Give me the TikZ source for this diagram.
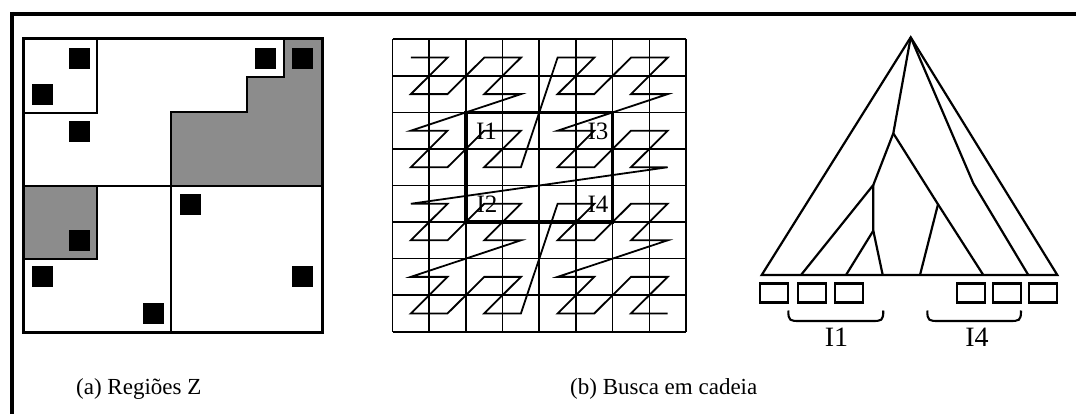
\documentclass[tikz,border=0pt]{standalone}
\usepackage{fontspec}
\setmainfont{Liberation Serif}
\begin{document}
\begin{tikzpicture}[x=1pt,y=-1pt,
  frameline/.style={line width=4pt},
  region/.style={line width=2.3pt},
  shaded/.style={fill=black!45},
  object/.style={fill=black},
  gridline/.style={line width=1.6pt},
  boldbox/.style={line width=3.4pt},
  zcurve/.style={line width=1.8pt},
  treeline/.style={line width=2.2pt},
  leafbox/.style={draw, line width=2.1pt, minimum width=28pt, minimum height=19pt, inner sep=0pt},
  bracket/.style={line width=2.1pt},
  celllabel/.style={inner sep=0pt, font=\fontsize{25}{25}\selectfont},
  leaflabel/.style={inner sep=0pt, font=\fontsize{28}{28}\selectfont},
  caption/.style={inner sep=0pt, anchor=base west, font=\fontsize{23}{24}\selectfont}]
\useasboundingbox (0,0) rectangle (1076,414);

% page frame (top and left rules)
\draw[frameline] (12,14) -- (1076,14);
\draw[frameline] (12,12) -- (12,414);

% ---------- (a) Z regions ----------
\fill[shaded] (171,186) -- (171,112) -- (247,112) -- (247,77) -- (284,77) -- (284,39)
  -- (322,39) -- (322,186) -- cycle;
\draw[region] (171,186) -- (171,112) -- (247,112) -- (247,77) -- (284,77) -- (284,39);
\fill[shaded] (23,186) rectangle (97,259);
\draw[region] (23,186) rectangle (97,259);
\draw[region] (23,39) rectangle (97,113);
\draw[region] (23,186) -- (322,186);
\draw[region] (171,186) -- (171,332);
\draw[line width=3pt] (23,39) rectangle (322,332);
\foreach \px/\py in {69/48, 32/84, 69/121, 255/48, 292/48, 69/230, 32/266, 143/303, 180/194, 292/266}
  \fill[object] (\px,\py) rectangle ++(21,21);

% ---------- (b) grid with Z-order curve ----------
\foreach \i in {0,...,8} {
  \draw[gridline] ({392.5+36.69*\i},39.3) -- ({392.5+36.69*\i},331.7);
  \draw[gridline] (392.5,{39.3+36.55*\i}) -- (686,{39.3+36.55*\i});
}
\draw[boldbox] (465.9,112.4) rectangle (612.6,222.05);

% Morton order over the 8x8 cells
\foreach \k in {0,...,63} {
  \pgfmathtruncatemacro\ci{mod(\k,2)+2*mod(floor(\k/4),2)+4*mod(floor(\k/16),2)}
  \pgfmathtruncatemacro\cj{mod(floor(\k/2),2)+2*mod(floor(\k/8),2)+4*mod(floor(\k/32),2)}
  \coordinate (z\k) at ({392.5+36.69*(\ci+0.5)},{39.3+36.55*(\cj+0.5)});
}
\draw[zcurve] (z0) foreach \k in {1,...,63} { -- (z\k) };

\node[celllabel] (gI1) at (486.5,131.5) {I1};
\node[celllabel] (gI3) at (598,131.5) {I3};
\node[celllabel] (gI2) at (487,204.5) {I2};
\node[celllabel] (gI4) at (598,204.5) {I4};

% ---------- tree over the curve ----------
\coordinate (apex) at (910.7,37.3);
\coordinate (bl) at (761.7,275);
\coordinate (br) at (1057.3,275);
\coordinate (nA) at (893.3,133.3);
\coordinate (nB) at (873.3,185);
\coordinate (nC) at (873.3,230.7);
\coordinate (nD) at (938,204.3);
\coordinate (nK) at (973.3,183.3);
\coordinate (l1) at (801,275);
\coordinate (l2) at (846,275);
\coordinate (l3) at (882.7,275);
\coordinate (l4) at (920,275);
\coordinate (l5) at (983.3,275);
\coordinate (l6) at (1028.3,275);

\draw[treeline, line join=miter] (bl) -- (apex) -- (br) -- cycle;
\draw[treeline] (apex) -- (nA) -- (nB) -- (l1);
\draw[treeline] (nB) -- (nC) -- (l2);
\draw[treeline] (nC) -- (l3);
\draw[treeline] (nA) -- (nD) -- (l5);
\draw[treeline] (nD) -- (l4);
\draw[treeline] (apex) -- (nK) -- (l6);

\node[leafbox] (b1) at (774.2,293) {};
\node[leafbox] (b2) at (812.3,293) {};
\node[leafbox] (b3) at (849,293) {};
\node[leafbox] (b4) at (971,293) {};
\node[leafbox] (b5) at (1007,293) {};
\node[leafbox] (b6) at (1043,293) {};

% brackets under the leaf groups
\coordinate (br1a) at (788.3,310.5);
\coordinate (br1b) at (883.3,310.5);
\coordinate (br2a) at (927.3,310.5);
\coordinate (br2b) at (1021,310.5);
\draw[bracket] (br1a) .. controls (788.3,321) and (790,321) .. (800,321) -- (871.6,321)
  .. controls (881.6,321) and (883.3,321) .. (br1b);
\draw[bracket] (br2a) .. controls (927.3,321) and (929,321) .. (939,321) -- (1009.3,321)
  .. controls (1019.3,321) and (1021,321) .. (br2b);

\node[leaflabel] (tI1) at (836.5,337.5) {I1};
\node[leaflabel] (tI4) at (977,337.5) {I4};

% ---------- captions ----------
\node[caption] (capA) at (76,394) {(a) Regiões Z};
\node[caption] (capB) at (570,394) {(b) Busca em cadeia};
\end{tikzpicture}
\end{document}
